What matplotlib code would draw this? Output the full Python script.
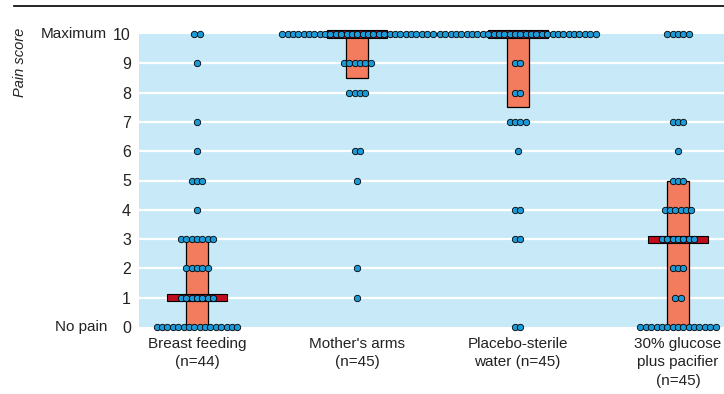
import matplotlib
matplotlib.use("Agg")
import matplotlib.pyplot as plt
from matplotlib import font_manager
from matplotlib.patches import Rectangle
from matplotlib.lines import Line2D

names = {f.name for f in font_manager.fontManager.ttflist}
if 'Liberation Sans Narrow' in names:
    plt.rcParams['font.family'] = ['Liberation Sans Narrow', 'DejaVu Sans']
    fs = 12
else:
    plt.rcParams['font.family'] = ['Liberation Sans', 'DejaVu Sans']
    fs = 11

labels = ["Breast feeding\n(n=44)", "Mother's arms\n(n=45)",
          "Placebo-sterile\nwater (n=45)", "30% glucose\nplus pacifier\n(n=45)"]
scores = list(range(11))
# number of infants at each pain score 0..10
breast = [16, 7, 5, 7, 1, 3, 1, 1, 0, 1, 2]
mother = [0, 1, 1, 0, 0, 1, 2, 0, 4, 6, 29]
placebo = [2, 0, 0, 2, 2, 0, 1, 4, 2, 2, 30]
glucose = [15, 2, 3, 7, 6, 3, 1, 3, 0, 0, 5]
counts = [breast, mother, placebo, glucose]
# median and interquartile range
medians = [1, 10, 10, 3]
q1 = [0, 8.5, 7.5, 0]
q3 = [3, 10, 10, 5]

bg = '#c8e9f8'
box_col = '#f47c5e'
med_col = '#c00d1e'
dot_col = '#1b9ad6'
txt = '#222222'

fig = plt.figure(figsize=(7.24, 3.94), dpi=100)
ax = fig.add_axes([139/724, 67/394, 585/724, 293/394])
ax.set_facecolor(bg)
ax.set_xlim(-0.362, 3.287)
ax.set_ylim(0, 10)
for s in ax.spines.values():
    s.set_visible(False)

for y in scores[1:-1]:
    ax.axhline(y, color='white', lw=1.6, zorder=1)

step = 0.0335
box_w = 0.137
med_w = 0.374
med_h = 0.24
for i, cnt in enumerate(counts):
    ax.add_patch(Rectangle((i - box_w/2, q1[i]), box_w, q3[i] - q1[i],
                           fc=box_col, ec='black', lw=0.9, zorder=2, clip_on=False))
    ax.add_patch(Rectangle((i - med_w/2, medians[i] - med_h/2), med_w, med_h,
                           fc=med_col, ec='black', lw=0.8, zorder=3, clip_on=False))
    xs, ys = [], []
    for sc, n in zip(scores, cnt):
        for k in range(n):
            xs.append(i + (k - (n - 1)/2) * step)
            ys.append(sc)
    ax.plot(xs, ys, 'o', ms=4.6, mfc=dot_col, mec='black', mew=0.6,
            zorder=4, clip_on=False)

ax.set_yticks(scores)
ax.set_yticklabels([str(s) for s in scores], fontsize=fs + 0.5, color=txt)
ax.tick_params(axis='y', length=0, pad=5.8)
ax.set_xticks(range(4))
ax.set_xticklabels(labels, fontsize=fs, color=txt, linespacing=1.4)
ax.tick_params(axis='x', length=0, pad=7)

ytop = 1 - 34/394
ybot = 1 - 327/394
fig.text(107/724, ytop, "Maximum", ha='right', va='center', fontsize=fs, color=txt)
fig.text(107/724, ybot, "No pain", ha='right', va='center', fontsize=fs, color=txt)
fig.text(20/724, 1 - 28/394, "Pain score", rotation=90, ha='center', va='top',
         fontsize=fs - 0.5, style='italic', color=txt)

fig.add_artist(Line2D([14/724, 1], [1 - 6/394, 1 - 6/394], color='black', lw=1.2))

fig.savefig('out.png', dpi=100)
